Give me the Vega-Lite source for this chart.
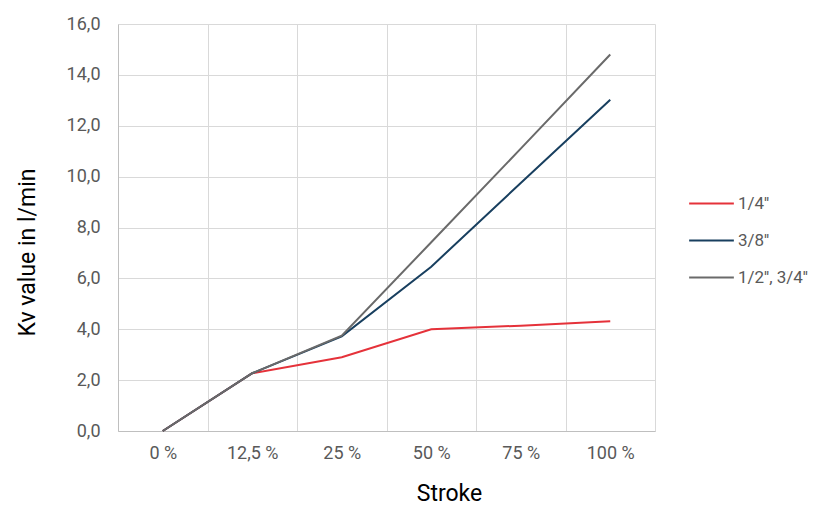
{
  "$schema": "https://vega.github.io/schema/vega-lite/v6.json",
  "width": 537,
  "height": 407,
  "autosize": "none",
  "padding": {"left": 118, "top": 24, "right": 168, "bottom": 74},
  "background": "white",
  "config": {
    "font": "Roboto",
    "view": {"stroke": null},
    "axis": {"gridColor": "#d9d9d9", "domainColor": "#bfbfbf", "ticks": false, "labelColor": "#595959", "labelFontSize": 18, "titleFontSize": 23, "titleFontWeight": "normal", "titleColor": "#000000", "labelFont": "Roboto", "titleFont": "Roboto"}
  },
  "data": {
    "values": [
      {"stroke": "0 %", "series": "1/4''", "kv": 0},
      {"stroke": "12,5 %", "series": "1/4''", "kv": 2.27},
      {"stroke": "25 %", "series": "1/4''", "kv": 2.9},
      {"stroke": "50 %", "series": "1/4''", "kv": 4.0},
      {"stroke": "75 %", "series": "1/4''", "kv": 4.14},
      {"stroke": "100 %", "series": "1/4''", "kv": 4.31},
      {"stroke": "0 %", "series": "3/8''", "kv": 0},
      {"stroke": "12,5 %", "series": "3/8''", "kv": 2.27},
      {"stroke": "25 %", "series": "3/8''", "kv": 3.72},
      {"stroke": "50 %", "series": "3/8''", "kv": 6.46},
      {"stroke": "75 %", "series": "3/8''", "kv": 9.75},
      {"stroke": "100 %", "series": "3/8''", "kv": 13.02},
      {"stroke": "0 %", "series": "1/2'', 3/4''", "kv": 0},
      {"stroke": "12,5 %", "series": "1/2'', 3/4''", "kv": 2.27},
      {"stroke": "25 %", "series": "1/2'', 3/4''", "kv": 3.75},
      {"stroke": "50 %", "series": "1/2'', 3/4''", "kv": 7.42},
      {"stroke": "75 %", "series": "1/2'', 3/4''", "kv": 11.1},
      {"stroke": "100 %", "series": "1/2'', 3/4''", "kv": 14.8}
    ]
  },
  "mark": {"type": "line", "strokeWidth": 2},
  "encoding": {
    "x": {
      "field": "stroke",
      "type": "nominal",
      "sort": ["0 %", "12,5 %", "25 %", "50 %", "75 %", "100 %"],
      "scale": {"type": "band", "paddingInner": 0, "paddingOuter": 0},
      "bandPosition": 0.5,
      "title": "Stroke",
      "axis": {"grid": true, "tickBand": "extent", "labelAngle": 0, "labelPadding": 13, "titlePadding": 20, "titleX": 331, "domain": true}
    },
    "y": {
      "field": "kv",
      "type": "quantitative",
      "scale": {"domain": [0, 16]},
      "title": "Kv value in l/min",
      "axis": {"values": [0, 2, 4, 6, 8, 10, 12, 14, 16], "labelExpr": "replace(format(datum.value, '.1f'), '.', ',')", "labelPadding": 18, "titlePadding": 27, "titleY": 228, "domain": true}
    },
    "color": {
      "field": "series",
      "type": "nominal",
      "sort": ["1/4''", "3/8''", "1/2'', 3/4''"],
      "scale": {"domain": ["1/4''", "3/8''", "1/2'', 3/4''"], "range": ["#e5323a", "#183f5f", "#6a6a6a"]},
      "legend": {"title": null, "orient": "none", "legendX": 570, "legendY": 156, "symbolType": "stroke", "symbolSize": 2000, "symbolStrokeWidth": 2, "labelFontSize": 17, "labelColor": "#595959", "labelFont": "Roboto", "rowPadding": 5, "labelOffset": 3}
    }
  }
}
